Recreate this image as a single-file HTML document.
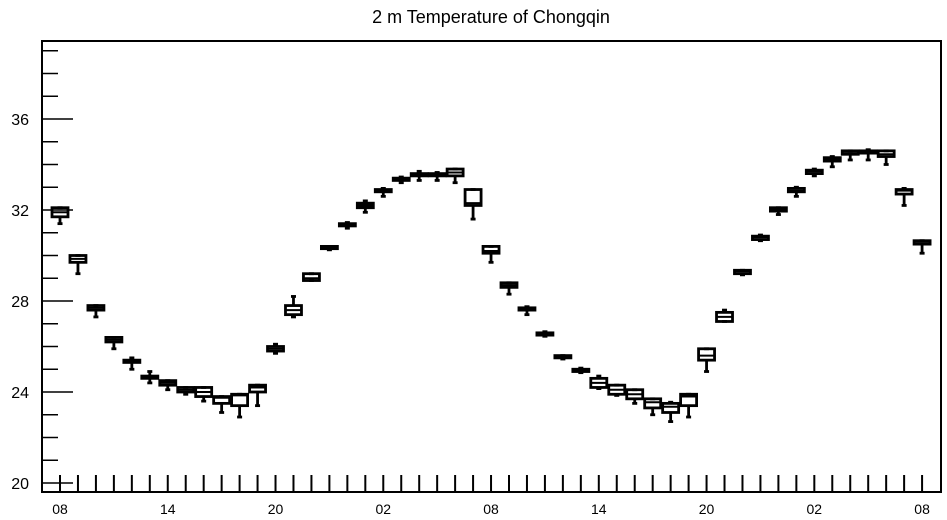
<!DOCTYPE html>
<html><head><meta charset="utf-8"><style>
body{margin:0;background:#fff;width:947px;height:520px;overflow:hidden}
svg{display:block;font-family:"Liberation Sans",sans-serif}
</style></head><body>
<svg id="chart" width="947" height="520" viewBox="0 0 947 520">
<text x="491" y="23" font-size="18" text-anchor="middle">2 m Temperature of Chongqin</text>
<rect x="42" y="41" width="899" height="451" fill="none" stroke="#000" stroke-width="2"/>
<g id="axes"></g><g id="boxes"></g>
</svg>
<script>
const hours=["08","09","10","11","12","13","14","15","16","17","18","19","20","21","22","23","00","01","02","03","04","05","06","07","08","09","10","11","12","13","14","15","16","17","18","19","20","21","22","23","00","01","02","03","04","05","06","07","08"];
const mins=[31.4,29.2,27.3,25.9,25.0,24.4,24.1,23.9,23.6,23.1,22.9,23.4,25.7,27.3,28.9,30.25,31.2,31.9,32.6,33.2,33.3,33.3,33.2,31.6,29.7,28.3,27.4,26.45,25.45,24.85,24.15,23.85,23.5,23.0,22.7,22.9,24.9,27.1,29.15,30.65,31.8,32.6,33.5,33.9,34.2,34.2,34.0,32.2,30.1];
const q1s=[31.7,29.7,27.6,26.2,25.3,24.6,24.3,24.0,23.8,23.5,23.4,24.0,25.8,27.4,28.9,30.3,31.3,32.1,32.8,33.3,33.5,33.5,33.5,32.2,30.1,28.6,27.6,26.5,25.5,24.9,24.2,23.9,23.7,23.3,23.1,23.4,25.4,27.1,29.2,30.7,31.95,32.8,33.6,34.15,34.45,34.5,34.35,32.7,30.5];
const meds=[31.9,29.85,27.7,26.3,25.35,24.65,24.4,24.1,24.0,23.75,23.85,24.2,25.9,27.6,29.0,30.35,31.35,32.2,32.85,33.35,33.55,33.55,33.65,32.3,30.2,28.7,27.65,26.55,25.55,24.95,24.4,24.1,23.9,23.55,23.35,23.8,25.6,27.3,29.3,30.8,32.0,32.85,33.7,34.2,34.5,34.55,34.45,32.85,30.6];
const q3s=[32.1,30.0,27.8,26.4,25.4,24.7,24.5,24.2,24.2,23.8,23.9,24.3,26.0,27.8,29.2,30.4,31.4,32.3,32.9,33.4,33.6,33.6,33.8,32.9,30.4,28.8,27.7,26.6,25.6,25.0,24.6,24.3,24.1,23.7,23.5,23.9,25.9,27.5,29.35,30.85,32.1,32.95,33.75,34.3,34.6,34.6,34.6,32.9,30.65];
const maxs=[32.1,30.0,27.8,26.4,25.5,24.9,24.5,24.2,24.2,23.8,23.9,24.3,26.1,28.2,29.2,30.4,31.45,32.4,32.95,33.45,33.7,33.65,33.8,32.9,30.4,28.8,27.75,26.65,25.6,25.05,24.7,24.3,24.1,23.7,23.55,23.9,25.9,27.6,29.35,30.9,32.1,33.0,33.8,34.35,34.6,34.65,34.6,32.95,30.65];
const yTicks=[20,24,28,32,36];
const NS="http://www.w3.org/2000/svg";
const x0=60,dx=17.96;
function xs(i){return x0+i*dx;}
function ys(v){return 483-(v-20)*22.75;}
const ax=document.getElementById('axes'),bx=document.getElementById('boxes');
function mk(tag,attrs,parent){const e=document.createElementNS(NS,tag);for(const k in attrs)e.setAttribute(k,attrs[k]);parent.appendChild(e);return e;}
for(let v=20;v<=39;v++){
  const major=yTicks.includes(v);
  const t=mk('line',{x1:42,x2:major?73:58,y1:ys(v),y2:ys(v),stroke:'#000','stroke-width':1.5},ax);
  
  
}
yTicks.forEach(v=>{
  const t=mk('text',{x:29,y:ys(v)+6,'font-size':16,'text-anchor':'end'},ax);t.textContent=v;
  
  
});
hours.forEach((h,i)=>{
  const t=mk('line',{x1:xs(i),x2:xs(i),y1:475,y2:492,stroke:'#000','stroke-width':2},ax);
  
  
  if(i%6===0){
    const l=mk('text',{x:xs(i),y:514,'font-size':14,'text-anchor':'middle'},ax);l.textContent=h;
    
    
  }
});
hours.forEach((h,i)=>{
  const g=mk('g',{stroke:'#000','stroke-width':2.8,fill:'none'},bx);
  
  
  const x=xs(i),w=16;
  mk('line',{x1:x,x2:x,y1:ys(maxs[i]),y2:ys(q3s[i])},g);
  mk('line',{x1:x,x2:x,y1:ys(q1s[i]),y2:ys(mins[i])},g);
  mk('line',{x1:x-2.5,x2:x+2.5,y1:ys(mins[i]),y2:ys(mins[i])},g);
  mk('line',{x1:x-2.5,x2:x+2.5,y1:ys(maxs[i]),y2:ys(maxs[i])},g);
  const top=ys(q3s[i]),bot=ys(q1s[i]);
  mk('rect',{x:x-w/2,y:top,width:w,height:Math.max(bot-top,1.5)},g);
  mk('line',{x1:x-w/2,x2:x+w/2,y1:ys(meds[i]),y2:ys(meds[i]),'stroke-width':2},g);
});
</script>
</body></html>
